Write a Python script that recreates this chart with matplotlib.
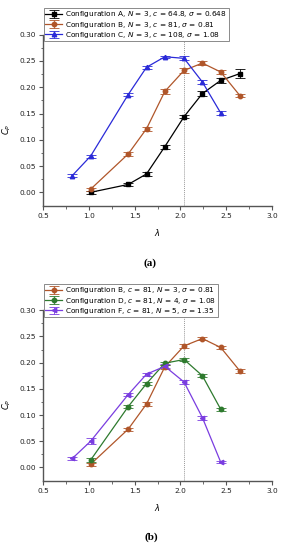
import matplotlib
matplotlib.use("Agg")
import matplotlib.pyplot as plt

# ---- data ----
lam_A = [1.02, 1.43, 1.63, 1.83, 2.04, 2.24, 2.44, 2.65]
cp_A = [0.000, 0.015, 0.035, 0.087, 0.144, 0.188, 0.213, 0.226]
err_A = [0.003, 0.003, 0.004, 0.004, 0.003, 0.005, 0.004, 0.008]

lam_B = [1.02, 1.43, 1.63, 1.83, 2.04, 2.24, 2.44, 2.65]
cp_B = [0.006, 0.073, 0.121, 0.192, 0.232, 0.246, 0.229, 0.184]
err_B = [0.003, 0.003, 0.004, 0.004, 0.004, 0.003, 0.003, 0.003]

lam_C = [0.82, 1.02, 1.43, 1.63, 1.83, 2.04, 2.24, 2.44]
cp_C = [0.032, 0.069, 0.186, 0.238, 0.258, 0.255, 0.210, 0.151]
err_C = [0.002, 0.003, 0.003, 0.003, 0.002, 0.004, 0.003, 0.003]

lam_D = [1.02, 1.43, 1.63, 1.83, 2.04, 2.24, 2.44]
cp_D = [0.014, 0.116, 0.160, 0.199, 0.206, 0.175, 0.111]
err_D = [0.003, 0.003, 0.003, 0.003, 0.003, 0.003, 0.003]

lam_F = [0.82, 1.02, 1.43, 1.63, 1.83, 2.04, 2.24, 2.44]
cp_F = [0.017, 0.050, 0.139, 0.178, 0.193, 0.163, 0.095, 0.010]
err_F = [0.003, 0.006, 0.003, 0.003, 0.004, 0.003, 0.004, 0.002]

labels_a = [r"Configuration A, $N$ = 3, $c$ = 64.8, $\sigma$ = 0.648",
            r"Configuration B, $N$ = 3, $c$ = 81, $\sigma$ = 0.81",
            r"Configuration C, $N$ = 3, $c$ = 108, $\sigma$ = 1.08"]
labels_b = [r"Configuration B, $c$ = 81, $N$ = 3, $\sigma$ = 0.81",
            r"Configuration D, $c$ = 81, $N$ = 4, $\sigma$ = 1.08",
            r"Configuration F, $c$ = 81, $N$ = 5, $\sigma$ = 1.35"]
xticks = [0.5, 1.0, 1.5, 2.0, 2.5, 3.0]
yticks = [0.00, 0.05, 0.10, 0.15, 0.20, 0.25, 0.30]
lam_opt = 2.04

col_A = "#000000"
col_B = "#b0562a"
col_C = "#2a2ad8"
col_D = "#2e7a2e"
col_F = "#7a3de0"

plt.rcParams['font.family'] = ['DejaVu Sans']
plt.rcParams['mathtext.fontset'] = 'dejavusans'

W, H = 287, 550
fig = plt.figure(figsize=(W / 100, H / 100), dpi=100)

def px_axes(left, right, top, bottom):
    return fig.add_axes([left / W, 1 - bottom / H, (right - left) / W, (bottom - top) / H])

ax1 = px_axes(43, 272, 34.7, 206)
ax2 = px_axes(43, 272, 310.3, 481)

def style(ax):
    ax.set_xlim(0.5, 3.0)
    ax.set_ylim(-0.026, 0.30)
    ax.set_xticks(xticks)
    ax.set_yticks(yticks)
    ax.set_xticklabels([f"{v:.1f}" for v in xticks])
    ax.set_yticklabels([f"{v:.2f}" for v in yticks])
    ax.set_xticks([0.75, 1.25, 1.75, 2.25, 2.75], minor=True)
    ax.set_yticks([0.025, 0.075, 0.125, 0.175, 0.225, 0.275], minor=True)
    for s in ["top", "right"]:
        ax.spines[s].set_visible(False)
    for s in ["left", "bottom"]:
        ax.spines[s].set_color("#555555")
        ax.spines[s].set_linewidth(1.0)
    ax.tick_params(which="major", direction="out", length=3, width=0.8, labelsize=5.3,
                   colors="#555555", labelcolor="#222222", pad=2)
    ax.tick_params(which="minor", direction="out", length=1.8, width=0.6, colors="#555555")
    ax.axvline(lam_opt, color="#9a9a9a", linestyle=(0, (1, 1)), linewidth=0.7, zorder=0)
    ax.set_xlabel(r"$\lambda$", fontsize=6)
    ax.xaxis.set_label_coords(0.5, -21 / 171)
    ax.set_ylabel(r"$C_P$", fontsize=6)
    ax.yaxis.set_label_coords(-30 / 229, 0.45)

def series(ax, x, y, e, c, m, lab):
    ax.errorbar(x, y, yerr=e, color=c, marker=m, markersize=3.2, linewidth=0.9,
                elinewidth=0.6, capsize=3.5, capthick=0.6, label=lab)

style(ax1)
series(ax1, lam_A, cp_A, err_A, col_A, "s", labels_a[0])
series(ax1, lam_B, cp_B, err_B, col_B, "o", labels_a[1])
series(ax1, lam_C, cp_C, err_C, col_C, "^", labels_a[2])

style(ax2)
series(ax2, lam_B, cp_B, err_B, col_B, "o", labels_b[0])
series(ax2, lam_D, cp_D, err_D, col_D, "o", labels_b[1])
series(ax2, lam_F, cp_F, err_F, col_F, "<", labels_b[2])

for ax, top in [(ax1, 8), (ax2, 284)]:
    leg = ax.legend(loc="upper left", bbox_to_anchor=(44 / W, 1 - top / H),
                    bbox_transform=fig.transFigure, fontsize=5.3, frameon=True,
                    fancybox=False, edgecolor="#777777", framealpha=1,
                    borderpad=0.2, labelspacing=0.02, handlelength=2.3,
                    handletextpad=0.4, borderaxespad=0)
    leg.get_frame().set_linewidth(0.6)
    leg.set_zorder(10)

fig.text(150 / W, 1 - 263 / H, "(a)", ha="center", va="center", fontsize=8,
         fontweight="bold", family="Liberation Serif")
fig.text(151 / W, 1 - 537 / H, "(b)", ha="center", va="center", fontsize=8,
         fontweight="bold", family="Liberation Serif")

fig.savefig("out.png", dpi=100)
